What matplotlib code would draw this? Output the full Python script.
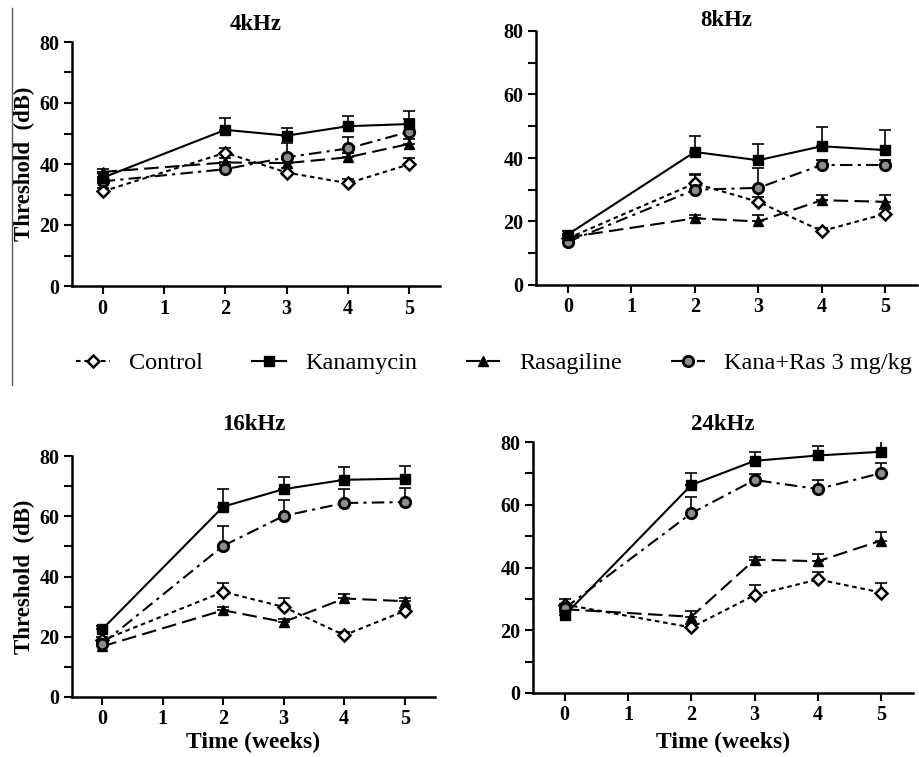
import matplotlib
matplotlib.use('Agg')
import numpy as np
import matplotlib.pyplot as plt
from matplotlib.lines import Line2D
from matplotlib.ticker import MultipleLocator

plt.rcParams['font.family'] = ['Liberation Serif', 'DejaVu Serif']

weeks = [0, 2, 3, 4, 5]
groups = ["Control", "Kanamycin", "Rasagiline", "Kana+Ras 3 mg/kg"]
titles = ["4kHz", "8kHz", "16kHz", "24kHz"]

# mean thresholds (dB) per group
mean_4k = {"Control": [31.0, 43.7, 37.2, 33.7, 39.9],
           "Kanamycin": [35.5, 51.2, 49.3, 52.4, 53.1],
           "Rasagiline": [37.4, 40.5, 40.3, 42.2, 46.6],
           "Kana+Ras 3 mg/kg": [34.3, 38.3, 42.2, 45.1, 50.6]}
err_4k = {"Control": [1.0, 1.5, 1.5, 1.5, 2.0],
          "Kanamycin": [1.5, 3.8, 2.6, 3.3, 4.2],
          "Rasagiline": [1.0, 1.5, 1.5, 1.5, 1.5],
          "Kana+Ras 3 mg/kg": [1.5, 1.5, 4.6, 3.8, 4.0]}

mean_8k = {"Control": [14.7, 32.0, 26.2, 17.0, 22.4],
           "Kanamycin": [15.9, 41.9, 39.3, 43.7, 42.5],
           "Rasagiline": [15.0, 21.0, 20.0, 26.7, 26.2],
           "Kana+Ras 3 mg/kg": [13.6, 30.0, 30.6, 37.8, 37.8]}
err_8k = {"Control": [1.0, 3.0, 1.5, 1.0, 1.5],
          "Kanamycin": [1.0, 5.0, 5.2, 6.1, 6.2],
          "Rasagiline": [1.0, 1.0, 2.0, 1.8, 2.1],
          "Kana+Ras 3 mg/kg": [1.0, 4.6, 6.1, 1.5, 1.5]}

mean_16k = {"Control": [18.8, 34.9, 29.9, 20.5, 28.6],
            "Kanamycin": [22.5, 63.2, 69.0, 72.1, 72.5],
            "Rasagiline": [16.8, 28.8, 24.9, 32.7, 31.8],
            "Kana+Ras 3 mg/kg": [17.7, 50.2, 60.1, 64.4, 64.7]}
err_16k = {"Control": [1.0, 3.0, 2.8, 1.0, 1.0],
           "Kanamycin": [1.0, 5.7, 3.9, 4.1, 4.3],
           "Rasagiline": [1.2, 1.0, 1.0, 1.5, 1.0],
           "Kana+Ras 3 mg/kg": [1.0, 6.5, 5.4, 4.6, 4.6]}

mean_24k = {"Control": [28.2, 20.9, 31.2, 36.2, 32.0],
            "Kanamycin": [24.8, 66.3, 74.0, 75.7, 76.9],
            "Rasagiline": [26.7, 24.3, 42.5, 42.0, 48.6],
            "Kana+Ras 3 mg/kg": [27.0, 57.3, 67.9, 65.0, 70.1]}
err_24k = {"Control": [1.8, 1.0, 3.1, 2.4, 3.2],
           "Kanamycin": [1.0, 3.7, 2.8, 3.0, 3.3],
           "Rasagiline": [1.5, 1.8, 1.0, 2.4, 2.6],
           "Kana+Ras 3 mg/kg": [1.5, 5.3, 2.0, 2.8, 3.1]}

means = [mean_4k, mean_8k, mean_16k, mean_24k]
errs = [err_4k, err_8k, err_16k, err_24k]

style = {
    "Control": dict(marker='D', ms=6.5, mfc='white', mec='black', mew=1.8,
                    ls=(0, (2.2, 1.8)), zorder=3),
    "Kanamycin": dict(marker='s', ms=6.5, mfc='black', mec='black', mew=1,
                      ls='-', zorder=4),
    "Rasagiline": dict(marker='^', ms=7, mfc='black', mec='black', mew=1,
                       ls=(0, (7, 3)), zorder=3),
    "Kana+Ras 3 mg/kg": dict(marker='o', ms=7.5, mfc='#8c8c8c', mec='black', mew=2,
                             ls=(0, (6, 2.5, 1.5, 2.5)), zorder=3),
}

W, H = 919, 757
fig = plt.figure(figsize=(W / 100, H / 100), dpi=100)

# axes boxes in pixels: left, top, right, bottom
boxes = [(72, 42, 440, 286), (536, 31, 917, 285),
         (72, 456, 435, 697), (533, 442, 913, 693)]
title_pads = [9, 2, 19, 9]
xlabel_pads = [0, 0, 2, 4.5]

for i, (l, t, r, b) in enumerate(boxes):
    ax = fig.add_axes([l / W, 1 - b / H, (r - l) / W, (b - t) / H])
    for g in groups:
        m = np.array(means[i][g])
        e = np.array(errs[i][g])
        ax.errorbar(weeks, m, yerr=[np.zeros_like(e), e], fmt='none',
                    ecolor='black', elinewidth=1.2, capsize=4.5, capthick=1.2,
                    zorder=2)
        ax.plot(weeks, m, color='black', lw=1.5, label=g, **style[g])
    ax.set_xlim(-0.5, 5.5)
    ax.set_ylim(0, 80)
    ax.set_xticks([0, 1, 2, 3, 4, 5])
    ax.set_yticks([0, 20, 40, 60, 80])
    ax.yaxis.set_minor_locator(MultipleLocator(10))
    ax.spines['top'].set_visible(False)
    ax.spines['right'].set_visible(False)
    for s in ['left', 'bottom']:
        ax.spines[s].set_linewidth(1.8)
    ax.tick_params(which='both', direction='out', length=6, width=1.5,
                   labelsize=14.5, pad=3)
    for lab in ax.get_xticklabels() + ax.get_yticklabels():
        lab.set_fontweight('bold')
    ax.set_title(titles[i], fontsize=16.5, fontweight='bold', pad=title_pads[i])
    if i in (0, 2):
        ax.set_ylabel("Threshold  (dB)", fontsize=16.5, fontweight='bold', labelpad=3)
    if i in (2, 3):
        ax.set_xlabel("Time (weeks)", fontsize=17, fontweight='bold',
                      labelpad=xlabel_pads[i])

handles = [Line2D([], [], color='black', lw=1.5, **style[g]) for g in groups]
fig.legend(handles, groups, loc='center', bbox_to_anchor=(494 / W, 1 - 363 / H),
           ncol=4, frameon=False, fontsize=17.5, handlelength=1.4,
           handletextpad=0.8, columnspacing=2.0)

fig.add_artist(Line2D([12 / W, 12 / W], [1 - 8 / H, 1 - 385 / H],
                      color='0.35', lw=1))

plt.savefig('out.png', dpi=100)
